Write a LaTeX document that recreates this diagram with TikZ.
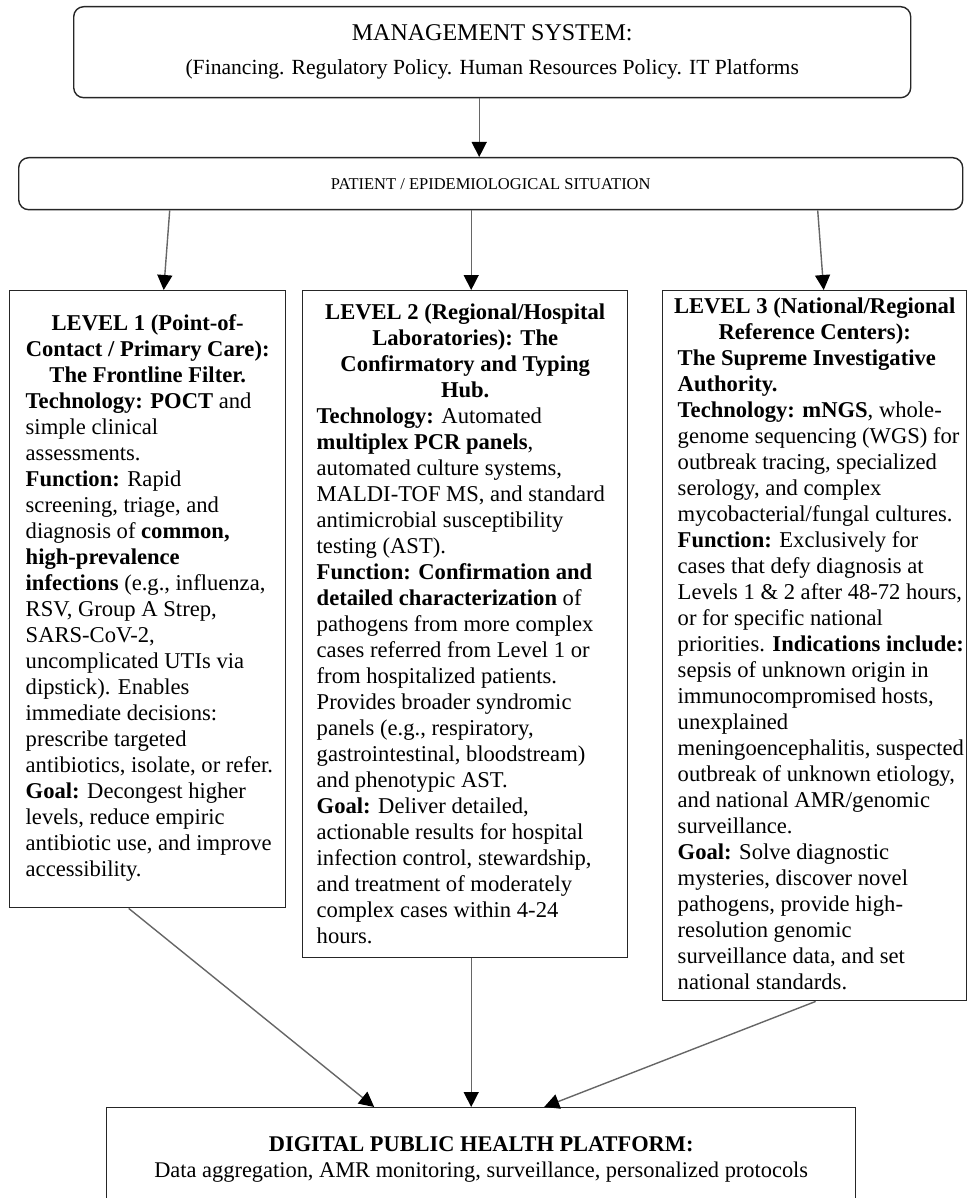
\documentclass[tikz,border=0pt]{standalone}
\usepackage{fontspec}
\setmainfont{Liberation Serif}
\usetikzlibrary{arrows.meta, calc}

\begin{document}
\begin{tikzpicture}[x=1pt, y=-1pt,
  hdbox/.style={draw=black!85, line width=1.4pt, rounded corners=10pt, anchor=north west, align=center, inner sep=0pt},
  lvlbox/.style={draw=black!85, line width=1.4pt, anchor=north west, inner xsep=1pt, inner ysep=0pt,
    font=\fontsize{22.6}{26}\selectfont},
  arr/.style={draw=black!60, line width=1.4pt, -{Triangle[length=15pt, width=15pt, color=black]}}]
\useasboundingbox (0,0) rectangle (967,1198);

\node[hdbox, minimum width=837pt, minimum height=91pt, font=\fontsize{21.6}{34}\selectfont] (mgmt) at (73,6)
  {{\fontsize{24}{28}\selectfont MANAGEMENT SYSTEM:}\\
   (Financing. Regulatory Policy. Human Resources Policy. IT Platforms};
\node[hdbox, minimum width=944pt, minimum height=52pt] (patient) at (18,157)
  {\fontsize{16.5}{20}\selectfont PATIENT / EPIDEMIOLOGICAL SITUATION};

\node[lvlbox] (L1) at (9,290) {\begin{minipage}[t][617pt][t]{274pt}\raggedright\leftskip=15pt
\vspace*{24pt}
{\centering\bfseries LEVEL 1 (Point-of-\\Contact / Primary Care):\\The Frontline Filter.\par}
\textbf{Technology: POCT} and\\
simple clinical\\
assessments.\\
\textbf{Function:} Rapid\\
screening, triage, and\\
diagnosis of \textbf{common,}\\
\textbf{high-prevalence}\\
\textbf{infections} (e.g., influenza,\\
RSV, Group A Strep,\\
SARS-CoV-2,\\
uncomplicated UTIs via\\
dipstick). Enables\\
immediate decisions:\\
prescribe targeted\\
antibiotics, isolate, or refer.\\
\textbf{Goal:} Decongest higher\\
levels, reduce empiric\\
antibiotic use, and improve\\
accessibility.
\end{minipage}};

\node[lvlbox] (L2) at (302,290) {\begin{minipage}[t][667pt][t]{323pt}\raggedright\leftskip=13pt
\vspace*{13pt}
{\centering\bfseries LEVEL 2 (Regional/Hospital\\Laboratories): The\\Confirmatory and Typing\\Hub.\par}
\textbf{Technology:} Automated\\
\textbf{multiplex PCR panels},\\
automated culture systems,\\
MALDI-TOF MS, and standard\\
antimicrobial susceptibility\\
testing (AST).\\
\textbf{Function: Confirmation and}\\
\textbf{detailed characterization} of\\
pathogens from more complex\\
cases referred from Level 1 or\\
from hospitalized patients.\\
Provides broader syndromic\\
panels (e.g., respiratory,\\
gastrointestinal, bloodstream)\\
and phenotypic AST.\\
\textbf{Goal:} Deliver detailed,\\
actionable results for hospital\\
infection control, stewardship,\\
and treatment of moderately\\
complex cases within 4-24\\
hours.
\end{minipage}};

\node[lvlbox] (L3) at (662,290) {\begin{minipage}[t][710pt][t]{302pt}\raggedright\leftskip=14pt
\vspace*{7pt}
{\centering\bfseries LEVEL 3 (National/Regional\\Reference Centers):\par}
\textbf{The Supreme Investigative}\\
\textbf{Authority.}\\
\textbf{Technology: mNGS}, whole-\\
genome sequencing (WGS) for\\
outbreak tracing, specialized\\
serology, and complex\\
mycobacterial/fungal cultures.\\
\textbf{Function:} Exclusively for\\
cases that defy diagnosis at\\
Levels 1 \& 2 after 48-72 hours,\\
or for specific national\\
priorities. \textbf{Indications include:}\\
sepsis of unknown origin in\\
immunocompromised hosts,\\
unexplained\\
meningoencephalitis, suspected\\
outbreak of unknown etiology,\\
and national AMR/genomic\\
surveillance.\\
\textbf{Goal:} Solve diagnostic\\
mysteries, discover novel\\
pathogens, provide high-\\
resolution genomic\\
surveillance data, and set\\
national standards.
\end{minipage}};

\node[lvlbox, minimum width=749pt, minimum height=103pt, align=center, font=\fontsize{22.4}{26}\selectfont] (dph) at (106,1107)
  {\textbf{DIGITAL PUBLIC HEALTH PLATFORM:}\\
   Data aggregation, AMR monitoring, surveillance, personalized protocols};

\draw[arr] ($(mgmt.south)+(-13,0)$) -- ($(mgmt.south |- patient.north)+(-13,0)$);
\draw[arr] ($(patient.south -| L1.north)+(22,0)$) -- ($(L1.north)+(16,0)$);
\draw[arr] ($(patient.south -| L2.north)+(6,0)$) -- ($(L2.north)+(6,0)$);
\draw[arr] ($(patient.south -| L3.north)+(3,0)$) -- ($(L3.north)+(9,0)$);

\draw[arr] ($(L1.south)+(-19,0)$) -- ($(dph.north)+(-107,0)$);
\draw[arr] ($(L2.south)+(6,0)$) -- ($(L2.south |- dph.north)+(6,0)$);
\draw[arr] ($(L3.south)+(1,0)$) -- ($(dph.north)+(63,0)$);
\end{tikzpicture}
\end{document}
